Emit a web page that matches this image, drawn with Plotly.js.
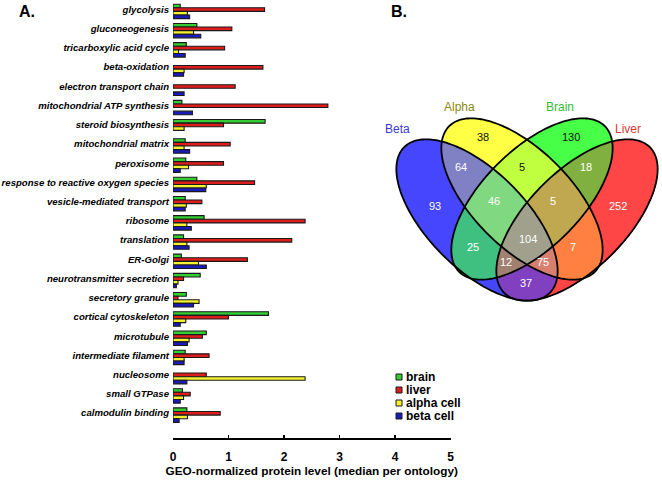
<!DOCTYPE html>
<html>
<head>
<meta charset="utf-8">
<script src="https://cdn.plot.ly/plotly-3.0.1.min.js"></script>
<style>
  html, body { margin: 0; padding: 0; background: #fff; }
  #chart { width: 662px; height: 483px; }
</style>
</head>
<body>
<div id="chart"></div>
<script>
// Panel A: median GEO-normalized protein level per ontology
const categories = [
    'glycolysis', 'gluconeogenesis', 'tricarboxylic acid cycle', 'beta-oxidation',
    'electron transport chain', 'mitochondrial ATP synthesis', 'steroid biosynthesis',
    'mitochondrial matrix', 'peroxisome', 'response to reactive oxygen species',
    'vesicle-mediated transport', 'ribosome', 'translation', 'ER-Golgi',
    'neurotransmitter secretion', 'secretory granule', 'cortical cytoskeleton',
    'microtubule', 'intermediate filament', 'nucleosome', 'small GTPase', 'calmodulin binding'
];
const brain     = [0.13, 0.43, 0.24, null, null, 0.16, 1.66, 0.22, 0.23, 0.43, 0.22, 0.56, 0.19, 0.15, 0.49, 0.24, 1.72, 0.60, 0.22, null, 0.17, 0.25];
const liver     = [1.65, 1.06, 0.93, 1.62, 1.12, 2.79, 0.91, 1.03, 0.91, 1.47, 0.52, 2.38, 2.14, 1.34, 0.19, 0.09, 1.00, 0.53, 0.65, 0.60, 0.31, 0.85];
const alphaCell = [0.26, 0.37, 0.10, 0.20, null, null, 0.20, 0.20, 0.28, 0.60, 0.24, 0.25, 0.25, 0.46, 0.09, 0.47, 0.23, 0.29, 0.20, 2.38, 0.19, 0.26];
const betaCell  = [0.30, 0.50, 0.22, 0.19, 0.20, 0.35, null, 0.30, 0.13, 0.59, 0.22, 0.33, 0.29, 0.60, 0.06, 0.37, 0.13, 0.26, 0.20, 0.25, 0.13, 0.11];
const seriesNames = ['brain', 'liver', 'alpha cell', 'beta cell'];
const seriesColors = ['#33cc33', '#dd1c1c', '#f2f233', '#1a1ab8'];
const xTicks = [0, 1, 2, 3, 4, 5];

// Panel B: Venn diagram of detected proteins
const setNames = ['Beta', 'Alpha', 'Brain', 'Liver'];
const setLabelColors = ['#3a3acc', '#8a8a10', '#33bb33', '#d43a3a'];
// region = bitmask (1 Beta, 2 Alpha, 4 Brain, 8 Liver)
const regionMasks  = [1, 2, 4, 8, 3, 6, 12, 9, 5, 10, 7, 14, 13, 11, 15];
const regionCounts = [93, 38, 130, 252, 64, 5, 18, 37, 25, 7, 46, 5, 12, 75, 104];
const regionColors = {
    1: '#4646ff', 2: '#ffff46', 4: '#46ff46', 8: '#ff4646',
    3: '#8080c4', 6: '#c0ff40', 12: '#80b040', 9: '#8040c0',
    5: '#40c080', 10: '#ff8040', 7: '#80d880', 14: '#c0a850',
    13: '#a08070', 11: '#d88070', 15: '#a0a08c'
};

const W = 662, H = 483;
const FONT = 'Liberation Sans, Arial, Helvetica, sans-serif';
const px = v => v / W;
const py = v => 1 - v / H;

// ellipse geometry in page pixels (y down)
const ell = {
    cx: [477, 522, 532, 577],
    cy: [220, 199, 199, 220],
    rot: [45, 45, -45, -45],
    a: 103, b: 49
};
// count label anchor points, same order as regionMasks
const regionLabelX = [435, 483, 571, 618, 461, 522, 586, 526, 473, 573, 494, 553, 506, 543, 528];
const regionLabelY = [206, 137, 137, 206, 167, 167, 167, 283, 247, 247, 201, 201, 262, 262, 239];
const setLabelX = [397, 459, 560, 628];
const setLabelY = [129, 107, 107, 129];

function inside(k, x, y) {
    const t = ell.rot[k] * Math.PI / 180;
    const dx = x - ell.cx[k], dy = y - ell.cy[k];
    const u = dx * Math.cos(t) + dy * Math.sin(t);
    const v = -dx * Math.sin(t) + dy * Math.cos(t);
    return (u * u) / (ell.a * ell.a) + (v * v) / (ell.b * ell.b) <= 1;
}

function ellipsePath(k) {
    const t = ell.rot[k] * Math.PI / 180;
    let d = '';
    for (let i = 0; i <= 180; i++) {
        const s = i / 180 * 2 * Math.PI;
        const u = ell.a * Math.cos(s), v = ell.b * Math.sin(s);
        const x = ell.cx[k] + u * Math.cos(t) - v * Math.sin(t);
        const y = ell.cy[k] + u * Math.sin(t) + v * Math.cos(t);
        d += (i === 0 ? 'M' : 'L') + x.toFixed(2) + ',' + y.toFixed(2);
    }
    return d + 'Z';
}

// bar traces
const values = [brain, liver, alphaCell, betaCell];
const traces = values.map((vals, i) => ({
    type: 'bar', orientation: 'h',
    x: vals, y: categories,
    name: seriesNames[i],
    marker: { color: seriesColors[i], line: { color: '#1a1a1a', width: 1.1 } },
    xaxis: 'x', yaxis: 'y',
    hoverinfo: 'skip'
}));

// venn fill as a membership grid
const gx = [], gy = [];
for (let x = 390; x <= 662; x++) gx.push(x);
for (let y = 110; y <= 305; y++) gy.push(y);
const z = gy.map(y => gx.map(x => {
    let m = 0;
    for (let k = 0; k < 4; k++) if (inside(k, x, y)) m |= (1 << k);
    return m === 0 ? null : m;
}));
const cs = [];
for (let m = 1; m <= 15; m++) {
    cs.push([(m - 1) / 15, regionColors[m]]);
    cs.push([m / 15, regionColors[m]]);
}
traces.push({
    type: 'heatmap', x: gx, y: gy, z: z,
    zmin: 0.5, zmax: 15.5, colorscale: cs, showscale: false,
    xaxis: 'x2', yaxis: 'y2', hoverinfo: 'skip'
});

const shapes = [];
for (let k = 0; k < 4; k++) {
    shapes.push({ type: 'path', xref: 'x2', yref: 'y2', path: ellipsePath(k),
        line: { color: '#000', width: 1.8 }, fillcolor: 'rgba(0,0,0,0)' });
}

const annotations = [
    { text: '<b>A.</b>', x: px(17), y: py(11), xref: 'paper', yref: 'paper', xanchor: 'left', yanchor: 'middle', showarrow: false, font: { size: 16, color: '#000' } },
    { text: '<b>B.</b>', x: px(389), y: py(11), xref: 'paper', yref: 'paper', xanchor: 'left', yanchor: 'middle', showarrow: false, font: { size: 16, color: '#000' } }
];
regionMasks.forEach((m, i) => {
    const dark = (m === 2 || m === 4 || m === 6);
    annotations.push({
        text: String(regionCounts[i]), x: regionLabelX[i], y: regionLabelY[i],
        xref: 'x2', yref: 'y2', showarrow: false,
        font: { size: 11, color: dark ? '#111' : '#fff' }
    });
});
setNames.forEach((n, i) => {
    annotations.push({
        text: n, x: setLabelX[i], y: setLabelY[i], xref: 'x2', yref: 'y2', showarrow: false,
        font: { size: 12, color: setLabelColors[i] }
    });
});
// legend
seriesNames.forEach((n, i) => {
    const yc = 377 + i * 13;
    shapes.push({ type: 'rect', xref: 'paper', yref: 'paper',
        x0: px(396), x1: px(402), y0: py(yc - 3), y1: py(yc + 3),
        fillcolor: seriesColors[i], line: { color: '#1a1a1a', width: 1 } });
    annotations.push({ text: '<b>' + n + '</b>', x: px(404), y: py(yc), xref: 'paper', yref: 'paper',
        xanchor: 'left', yanchor: 'middle', showarrow: false, font: { size: 12, color: '#000' } });
});

const layout = {
    width: W, height: H,
    margin: { l: 0, r: 0, t: 0, b: 0, pad: 0 },
    paper_bgcolor: '#fff', plot_bgcolor: 'rgba(0,0,0,0)',
    font: { family: FONT, color: '#000' },
    showlegend: false,
    barmode: 'group', bargap: 0.25, bargroupgap: 0,
    xaxis: {
        domain: [px(173), px(450.5)], range: [0, 5], anchor: 'y',
        tickvals: xTicks, ticks: 'inside', ticklen: 3, tickwidth: 1.5, tickcolor: '#000',
        showline: true, linecolor: '#000', linewidth: 1.6,
        showgrid: false, zeroline: false, automargin: false,
        tickfont: { size: 12, weight: 'bold' }, ticklabelstandoff: 7,
        title: { text: 'GEO-normalized protein level (median per ontology)', font: { size: 11.8, weight: 'bold' }, standoff: 1 }
    },
    yaxis: {
        domain: [py(438), py(2)], range: [22.19, -0.49], anchor: 'x',
        type: 'category', categoryorder: 'array', categoryarray: categories,
        showline: false, ticks: '', showgrid: false, zeroline: false, automargin: false,
        tickfont: { size: 9.6, weight: 'bold', style: 'italic' }, ticklabelstandoff: 3,
        ticklabelshift: 2
    },
    xaxis2: { domain: [px(385), 1], range: [385, 662], anchor: 'y2', visible: false, fixedrange: true },
    yaxis2: { domain: [py(330), 1], range: [330, 0], anchor: 'x2', visible: false, fixedrange: true },
    shapes: shapes,
    annotations: annotations
};

Plotly.newPlot('chart', traces, layout, { displayModeBar: false, staticPlot: true });
</script>
</body>
</html>
